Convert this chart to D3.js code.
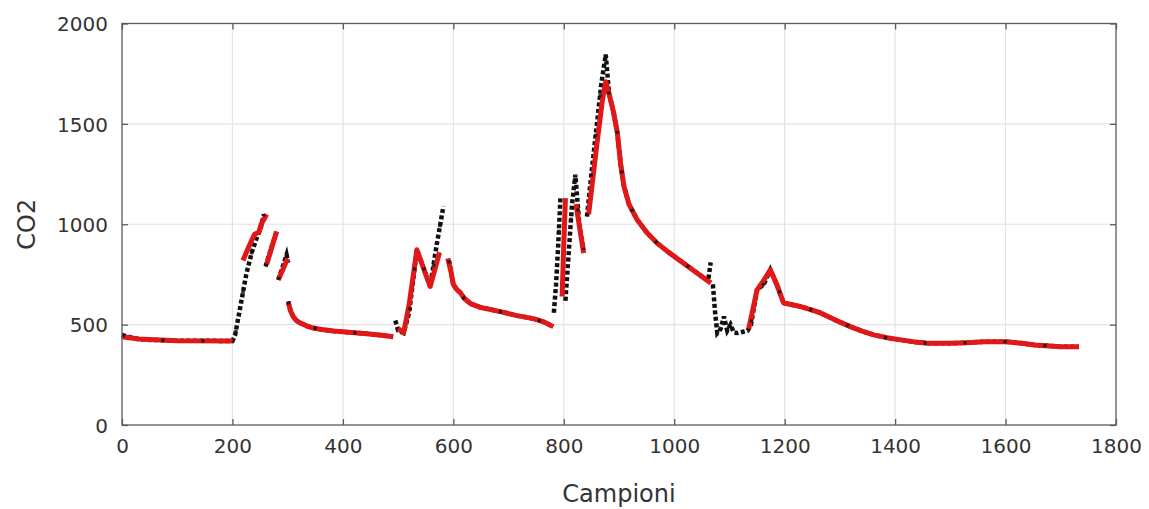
<!DOCTYPE html>
<html>
<head>
<meta charset="utf-8">
<script src="https://cdn.jsdelivr.net/npm/d3@7"></script>
<style>
  html, body { margin: 0; padding: 0; background: #fff; }
  svg { display: block; }
</style>
</head>
<body>
<svg id="chart" width="1149" height="509"></svg>
<script>
// ---- Data; null marks a gap in the series ----
const xTicks = [0, 200, 400, 600, 800, 1000, 1200, 1400, 1600, 1800];
const yTicks = [0, 500, 1000, 1500, 2000];
const xLabel = "Campioni";
const yLabel = "CO2";

// measured CO2 (black dots)
const actualSamples = [0, 10, 30, 50, 100, 150, 200, 205, 215, 225, 235, 245, 252, 257, null,
  260, 270, 280, null,
  283, 290, 298, 301, null,
  301, 305, 310, 316, 323, 335, 347, 365, 383, 410, 443, 470, 491, null,
  495, 500, 510, 520, 534, 558, 570, 582, null,
  592, 596, 600, 606, 613, 620, 631, 650, 685, 715, 745, 765, 781, null,
  782, 786, 790, 794, null,
  803, 810, 815, 821, 828, 836, null,
  842, 850, 860, 868, 876, 882, 890, 897, 903, 909, 918, 933, 950, 969, 990, 1017, 1040, 1066, null,
  1062, 1066, null,
  1070, 1074, 1078, 1084, 1090, 1096, 1102, 1108, 1115, 1127, 1133, 1139, 1150, 1162, 1174, 1186, 1198,
  1229, 1250, 1265, 1290, 1319, 1340, 1361, 1385, 1410, 1435, 1459, 1501, 1530, 1561, 1601, 1630, 1652, 1700, 1733];
const actualCO2 = [449, 440, 428, 424, 420, 420, 418, 450, 600, 750, 860, 940, 990, 1050, null,
  790, 880, 964, null,
  723, 780, 848, 808, null,
  615, 570, 540, 520, 508, 493, 483, 474, 468, 462, 455, 447, 440, null,
  520, 470, 458, 560, 873, 690, 900, 1089, null,
  820, 760, 700, 675, 658, 630, 605, 585, 565, 545, 530, 512, 490, null,
  560, 700, 900, 1137, null,
  620, 900, 1100, 1247, 1000, 873, null,
  1039, 1250, 1500, 1700, 1845, 1650, 1560, 1455, 1300, 1189, 1100, 1022, 960, 906, 860, 806, 760, 708, null,
  730, 810, null,
  700, 560, 458, 478, 540, 470, 500, 460, 458, 466, 470, 500, 673, 700, 773, 698, 608,
  590, 572, 558, 525, 490, 468, 449, 435, 424, 414, 407, 407, 410, 415, 415, 407, 399, 390, 390];

// model estimate (red)
const predSamples = [0, 30, 100, 200, null,
  219, 230, 240, 248, 252, 262, null,
  262, 280, null,
  283, 300, null,
  301, 305, 310, 316, 323, 335, 347, 365, 383, 410, 443, 470, 491, null,
  500, 510, 520, 534, 558, 575, null,
  590, 596, 600, 606, 613, 620, 631, 650, 685, 715, 745, 765, 781, null,
  797, 800, 803, null,
  822, 836, null,
  845, 860, 870, 876, 882, 890, 897, 903, 909, 918, 933, 950, 969, 990, 1017, 1040, 1066, null,
  1135, 1150, 1162, 1174, 1186, 1198, 1229, 1250, 1265, 1290, 1319, 1340, 1361, 1385, 1410, 1435, 1459, 1501, 1530, 1561, 1601, 1630, 1652, 1700, 1733];
const predCO2 = [440, 428, 420, 418, null,
  820, 890, 950, 960, 1000, 1050, null,
  800, 964, null,
  723, 830, null,
  615, 570, 540, 520, 508, 493, 483, 474, 468, 462, 455, 447, 440, null,
  480, 460, 600, 873, 690, 860, null,
  830, 760, 700, 675, 658, 630, 605, 585, 565, 545, 530, 512, 490, null,
  640, 900, 1130, null,
  1100, 856, null,
  1050, 1400, 1620, 1710, 1650, 1560, 1455, 1300, 1189, 1100, 1022, 960, 906, 860, 806, 760, 708, null,
  480, 673, 720, 773, 698, 608, 590, 572, 558, 525, 490, 468, 449, 435, 424, 414, 407, 407, 410, 415, 415, 407, 399, 390, 390];

// ---- Layout ----
const svg = d3.select("#chart");
const L = 122, R = 1116, T = 23.5, B = 425;
const x = d3.scaleLinear().domain([0, 1800]).range([L, R]);
const y = d3.scaleLinear().domain([0, 2000]).range([B, T]);
const font = "'DejaVu Sans', sans-serif";
const textCol = "#333";

// gridlines
const grid = svg.append("g");
grid.selectAll("line.gx").data(xTicks.slice(1, -1)).enter().append("line")
  .attr("x1", d => x(d)).attr("x2", d => x(d)).attr("y1", T).attr("y2", B)
  .attr("stroke", "#e3e3e3").attr("stroke-width", 1.2);
grid.selectAll("line.gy").data(yTicks.slice(1, -1)).enter().append("line")
  .attr("x1", L).attr("x2", R).attr("y1", d => y(d)).attr("y2", d => y(d))
  .attr("stroke", "#e3e3e3").attr("stroke-width", 1.2);

// series
const toPts = (xs, ys) => xs.map((s, i) => (s === null || ys[i] === null) ? null : [s, ys[i]]);
const line = d3.line().defined(d => d !== null).x(d => x(d[0])).y(d => y(d[1]));

const actualPts = toPts(actualSamples, actualCO2);
svg.append("path").datum(actualPts)
  .attr("d", line).attr("fill", "none")
  .attr("stroke", "#111").attr("stroke-width", 4.5)
  .attr("stroke-dasharray", "4,2.5");

svg.append("path").datum(toPts(predSamples, predCO2))
  .attr("d", line).attr("fill", "none")
  .attr("stroke", "#e01818").attr("stroke-width", 5)
  .attr("stroke-linejoin", "round");

// sparse black samples that show through the red trace
svg.append("path").datum(actualPts)
  .attr("d", line).attr("fill", "none")
  .attr("stroke", "#111").attr("stroke-width", 3.5)
  .attr("stroke-dasharray", "3,37").attr("opacity", 0.85);

// box
svg.append("rect").attr("x", L).attr("y", T).attr("width", R - L).attr("height", B - T)
  .attr("fill", "none").attr("stroke", "#5a5a5a").attr("stroke-width", 1.3);

// axes (ticks inward)
const fmt = d3.format("d");
const xAxB = d3.axisBottom(x).tickValues(xTicks).tickSizeInner(-6).tickSizeOuter(0).tickPadding(14).tickFormat(fmt);
const gxb = svg.append("g").attr("transform", `translate(0,${B})`).call(xAxB);
const gxt = svg.append("g").attr("transform", `translate(0,${T})`)
  .call(d3.axisTop(x).tickValues(xTicks).tickSizeInner(-6).tickSizeOuter(0).tickFormat(""));
const gyl = svg.append("g").attr("transform", `translate(${L},0)`)
  .call(d3.axisLeft(y).tickValues(yTicks).tickSizeInner(-6).tickSizeOuter(0).tickPadding(14).tickFormat(fmt));
const gyr = svg.append("g").attr("transform", `translate(${R},0)`)
  .call(d3.axisRight(y).tickValues(yTicks).tickSizeInner(-6).tickSizeOuter(0).tickFormat(""));
[gxb, gxt, gyl, gyr].forEach(g => {
  g.select(".domain").remove();
  g.selectAll(".tick line").attr("stroke", "#5a5a5a").attr("stroke-width", 1.3);
  g.selectAll(".tick text").attr("fill", textCol).attr("font-family", font).attr("font-size", 20);
});
gxb.selectAll(".tick text").attr("dy", "0.71em");
gyl.selectAll(".tick text").attr("dy", "0.36em");

// axis labels
svg.append("text").attr("x", (L + R) / 2).attr("y", 502)
  .attr("text-anchor", "middle").attr("font-family", font).attr("font-size", 24)
  .attr("fill", textCol).text(xLabel);
svg.append("text").attr("transform", `translate(35,${(T + B) / 2}) rotate(-90)`)
  .attr("text-anchor", "middle").attr("font-family", font).attr("font-size", 24)
  .attr("fill", textCol).text(yLabel);
</script>
</body>
</html>
